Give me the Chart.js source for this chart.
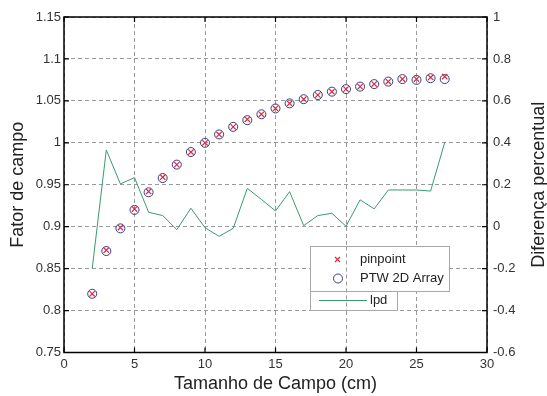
<!DOCTYPE html>
<html><head><meta charset="utf-8">
<script src="https://cdn.jsdelivr.net/npm/chart.js@4/dist/chart.umd.min.js"></script>
<style>html,body{margin:0;padding:0;background:#fff}#wrap{width:547px;height:396px}</style>
</head><body><div id="wrap"><canvas id="c" width="547" height="396"></canvas></div>
<script>
// ---- data ----
const fieldSizes = [2,3,4,5,6,7,8,9,10,11,12,13,14,15,16,17,18,19,20,21,22,23,24,25,26,27];
const pinpointValues = [0.820,0.872,0.899,0.921,0.942,0.959,0.974,0.989,1.000,1.010,1.019,1.028,1.034,1.041,1.047,1.052,1.057,1.061,1.064,1.067,1.070,1.073,1.076,1.076,1.078,1.079];
const ptwValues = [0.820,0.871,0.898,0.920,0.941,0.958,0.974,0.989,1.000,1.010,1.019,1.027,1.034,1.041,1.047,1.052,1.057,1.061,1.064,1.067,1.070,1.073,1.076,1.075,1.077,1.076];
const lpdValues = [-0.200,0.366,0.204,0.234,0.069,0.053,-0.014,0.088,-0.005,-0.046,-0.008,0.183,0.130,0.075,0.167,0.005,0.053,0.064,0.002,0.128,0.085,0.175,0.175,0.175,0.170,0.401];
const xTicks = [0,5,10,15,20,25,30];
const leftTicks = [0.75,0.8,0.85,0.9,0.95,1,1.05,1.1,1.15];
const rightTicks = [-0.6,-0.4,-0.2,0,0.2,0.4,0.6,0.8,1];
const seriesNames = ['pinpoint','PTW 2D Array','lpd'];
const axisTitles = {x:'Tamanho de Campo (cm)', y:'Fator de campo', y1:'Diferença percentual'};

const FONT = "'Liberation Sans', Arial, sans-serif";
const RED = '#dc2c3c', NAVY = '#3a3a8c', GREEN = '#3a9a6e', GRID = '#9a9a9a';
Chart.defaults.font.family = FONT;

const fmt = v => String(Number(Number(v).toFixed(2)));

const framePlugin = {
  id: 'frame',
  afterDraw(chart) {
    const {ctx, chartArea: a, scales} = chart;
    ctx.save();
    // legend boxes
    const b1 = {x: 310.5, y: 246.5, w: 139, h: 45};
    const b2 = {x: 310.5, y: 291.5, w: 87, h: 19};
    ctx.fillStyle = '#fff';
    ctx.fillRect(b1.x, b1.y, b1.w, b1.h);
    ctx.fillRect(b2.x, b2.y, b2.w, b2.h);
    // vertical grid at x=20 shows through legend (as in reference)
    const gx = Math.round(scales.x.getPixelForValue(20)) + 0.5;
    ctx.strokeStyle = GRID; ctx.lineWidth = 1; ctx.setLineDash([4,3]);
    ctx.beginPath(); ctx.moveTo(gx, b1.y); ctx.lineTo(gx, b2.y + b2.h); ctx.stroke();
    ctx.setLineDash([]);
    ctx.strokeStyle = '#a8a8a8';
    ctx.strokeRect(b1.x, b1.y, b1.w, b1.h);
    ctx.strokeRect(b2.x, b2.y, b2.w, b2.h);
    // legend symbols
    ctx.strokeStyle = RED; ctx.lineWidth = 1.2;
    const mx = 337.5, my1 = 259.5;
    ctx.beginPath();
    ctx.moveTo(mx-2.5, my1-2.5); ctx.lineTo(mx+2.5, my1+2.5);
    ctx.moveTo(mx-2.5, my1+2.5); ctx.lineTo(mx+2.5, my1-2.5);
    ctx.stroke();
    ctx.strokeStyle = NAVY; ctx.lineWidth = 1;
    ctx.beginPath(); ctx.arc(338, 278.5, 4.5, 0, Math.PI*2); ctx.stroke();
    ctx.strokeStyle = GREEN; ctx.lineWidth = 1.2;
    ctx.beginPath(); ctx.moveTo(319, 300.5); ctx.lineTo(367, 300.5); ctx.stroke();
    ctx.fillStyle = '#222'; ctx.font = '13px ' + FONT; ctx.textBaseline = 'middle'; ctx.textAlign = 'left';
    ctx.fillText(seriesNames[0], 360, 259.5);
    ctx.fillText(seriesNames[1], 360, 278.5);
    ctx.fillText(seriesNames[2], 370, 300.5);

    // plot frame
    ctx.strokeStyle = '#000'; ctx.lineWidth = 1.5;
    ctx.strokeRect(a.left, a.top, a.right - a.left, a.bottom - a.top);
    // inward ticks
    ctx.lineWidth = 1.2;
    ctx.beginPath();
    scales.y.ticks.forEach(t => {
      const py = scales.y.getPixelForValue(t.value);
      ctx.moveTo(a.left, py); ctx.lineTo(a.left + 5, py);
    });
    scales.y1.ticks.forEach(t => {
      const py = scales.y1.getPixelForValue(t.value);
      ctx.moveTo(a.right, py); ctx.lineTo(a.right - 5, py);
    });
    scales.x.ticks.forEach(t => {
      const px = scales.x.getPixelForValue(t.value);
      ctx.moveTo(px, a.bottom); ctx.lineTo(px, a.bottom - 5);
      ctx.moveTo(px, a.top); ctx.lineTo(px, a.top + 5);
    });
    ctx.stroke();
    // right axis title (reads bottom to top)
    ctx.save();
    ctx.translate(539, (a.top + a.bottom) / 2);
    ctx.rotate(-Math.PI / 2);
    ctx.fillStyle = '#222'; ctx.font = '18px ' + FONT; ctx.textAlign = 'center'; ctx.textBaseline = 'middle';
    ctx.fillText(axisTitles.y1, 0, 0);
    ctx.restore();
    ctx.restore();
  }
};

new Chart(document.getElementById('c'), {
  type: 'scatter',
  data: {
    datasets: [
      {label: seriesNames[0], data: fieldSizes.map((x, i) => ({x, y: pinpointValues[i]})), yAxisID: 'y',
       pointStyle: 'crossRot', pointRadius: 3.8, borderColor: RED, borderWidth: 1.2, backgroundColor: RED, order: 0},
      {label: seriesNames[1], data: fieldSizes.map((x, i) => ({x, y: ptwValues[i]})), yAxisID: 'y',
       pointStyle: 'circle', pointRadius: 4.5, borderColor: NAVY, borderWidth: 1, backgroundColor: 'rgba(0,0,0,0)', order: 1},
      {label: seriesNames[2], data: fieldSizes.map((x, i) => ({x, y: lpdValues[i]})), yAxisID: 'y1',
       showLine: true, pointRadius: 0, borderColor: GREEN, borderWidth: 1, backgroundColor: GREEN, order: 2}
    ]
  },
  options: {
    responsive: false, animation: false, devicePixelRatio: 1,
    layout: {padding: {top: 17, right: 0, bottom: 0, left: 0}},
    plugins: {legend: {display: false}, tooltip: {enabled: false}},
    scales: {
      x: {
        type: 'linear', min: xTicks[0], max: xTicks[xTicks.length-1],
        afterBuildTicks: s => { s.ticks = xTicks.map(v => ({value: v})); },
        afterFit: s => { s.height = 43.5; },
        grid: {color: GRID, lineWidth: 1, drawTicks: false},
        border: {display: false, dash: [4,3]},
        ticks: {padding: 4, color: '#333', font: {size: 13}, callback: v => fmt(v), maxRotation: 0},
        title: {display: true, text: axisTitles.x, color: '#222', font: {size: 18}, padding: {top: 0, bottom: 1}}
      },
      y: {
        type: 'linear', position: 'left', min: leftTicks[0], max: leftTicks[leftTicks.length-1],
        afterBuildTicks: s => { s.ticks = leftTicks.map(v => ({value: v})); },
        afterFit: s => { s.width = 64; },
        grid: {color: GRID, lineWidth: 1, drawTicks: false},
        border: {display: false, dash: [4,3]},
        ticks: {padding: 3, color: '#333', font: {size: 13}, callback: v => fmt(v)},
        title: {display: true, text: axisTitles.y, color: '#222', font: {size: 18}, padding: {top: 7, bottom: 0}}
      },
      y1: {
        type: 'linear', position: 'right', min: rightTicks[0], max: rightTicks[rightTicks.length-1],
        afterBuildTicks: s => { s.ticks = rightTicks.map(v => ({value: v})); },
        afterFit: s => { s.width = 60; },
        grid: {drawOnChartArea: false, drawTicks: false},
        border: {display: false},
        ticks: {padding: 6, color: '#333', font: {size: 13}, callback: v => fmt(v)}
      }
    }
  },
  plugins: [framePlugin]
});
</script>
</body></html>
